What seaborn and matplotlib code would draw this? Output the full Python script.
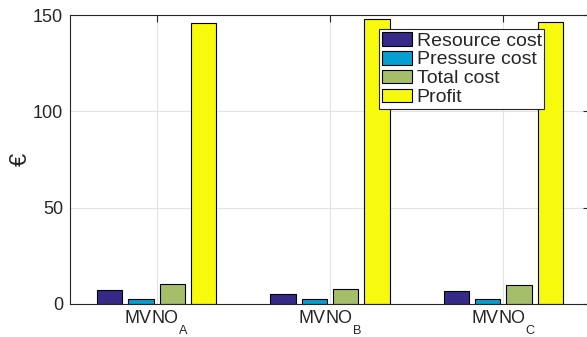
import matplotlib
matplotlib.use("Agg")
import matplotlib.pyplot as plt
import matplotlib._mathtext as _mt
import seaborn as sns
import pandas as pd

# push subscripts lower, as in the reference rendering
for _name in dir(_mt):
    _obj = getattr(_mt, _name)
    if isinstance(_obj, type) and issubclass(_obj, _mt.FontConstantsBase):
        _obj.sub1 = 1.1

categories = ["MVNO$_\\mathregular{A}$", "MVNO$_\\mathregular{B}$", "MVNO$_\\mathregular{C}$"]
series_names = ["Resource cost", "Pressure cost", "Total cost", "Profit"]
resource_cost = [7.4, 5.2, 6.9]
pressure_cost = [2.6, 2.6, 2.6]
total_cost = [10.2, 7.9, 9.7]
profit = [145.6, 147.9, 146.4]
yticks = [0, 50, 100, 150]
colors = ["#352a87", "#069fd2", "#a5be6a", "#f8fa0d"]

rows = []
for name, vals in zip(series_names, [resource_cost, pressure_cost, total_cost, profit]):
    for c, v in zip(categories, vals):
        rows.append({"cat": c, "series": name, "value": v})
df = pd.DataFrame(rows)

sns.set_style("white")
plt.rcParams["font.family"] = ["Liberation Sans", "DejaVu Sans"]
plt.rcParams["mathtext.default"] = "regular"

fig = plt.figure(figsize=(5.87, 3.37), dpi=100)
ax = fig.add_axes([70 / 587, 33 / 337, 520 / 587, 289 / 337])

sns.barplot(data=df, x="cat", y="value", hue="series", order=categories,
            hue_order=series_names, palette=colors, width=0.723, gap=0.2,
            edgecolor="black", linewidth=0.8, saturation=1, ax=ax, legend=True)

ax.set_axisbelow(True)
ax.grid(True, which="major", axis="both", color="#e3e3e3", linewidth=0.8)

ax.set_xlim(-0.5, 2.5)
ax.set_ylim(0, 150)
ax.set_yticks(yticks)
ax.set_xlabel("")
ax.set_ylabel("€", fontsize=17, color="#262626")
ax.yaxis.set_label_coords(-0.073, 0.5)
for s in ax.spines.values():
    s.set_visible(True)
    s.set_color("#262626")
    s.set_linewidth(0.8)
ax.tick_params(direction="in", length=5, width=0.8, colors="#262626",
               labelsize=13, top=True, right=True, pad=5)
ax.tick_params(axis="x", pad=3)

handles, labels = ax.get_legend_handles_labels()
ax.legend(handles, labels, loc="upper left",
          bbox_to_anchor=(379.3 / 587, 1 - 29.3 / 337), bbox_transform=fig.transFigure,
          fontsize=14, frameon=True, fancybox=False, framealpha=1,
          edgecolor="#262626", handlelength=1.55, handleheight=0.72,
          handletextpad=0.25, borderpad=0.13, labelspacing=0.06,
          borderaxespad=0)
ax.get_legend().get_frame().set_linewidth(0.8)

fig.savefig("out.png", dpi=100)
